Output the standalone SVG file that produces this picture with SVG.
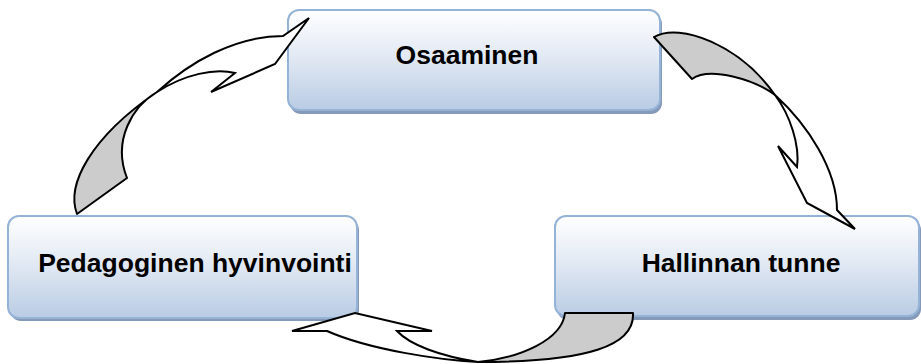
<svg xmlns="http://www.w3.org/2000/svg" width="921" height="364" viewBox="0 0 921 364">
  <defs>
    <linearGradient id="boxFill" x1="0" y1="0" x2="0" y2="1">
      <stop offset="0" stop-color="#ffffff"/>
      <stop offset="0.45" stop-color="#e3eaf4"/>
      <stop offset="1" stop-color="#b9cce4"/>
    </linearGradient>
    <filter id="soft" x="-5%" y="-5%" width="110%" height="120%">
      <feGaussianBlur stdDeviation="0.7"/>
    </filter>
  </defs>
  <style>
    .shadow { fill: #8599b8; filter: url(#soft); }
    .box { fill: url(#boxFill); stroke: #95b3d7; stroke-width: 2; }
    .label { font-family: "Liberation Sans", Arial, sans-serif; font-weight: bold; font-size: 26.5px; fill: #000; text-anchor: middle; }
    .fold { fill: #cccccc; stroke: #000; stroke-width: 2; stroke-linejoin: round; }
    .face { fill: #ffffff; stroke: #000; stroke-width: 2; stroke-linejoin: miter; }
  </style>

  <!-- nodes -->
  <g id="node-osaaminen">
    <rect class="shadow" x="290" y="13" width="372" height="101" rx="11"/>
    <rect class="box" x="288" y="10" width="372" height="100" rx="11"/>
    <text class="label" x="467" y="64">Osaaminen</text>
  </g>
  <g id="node-hallinnan-tunne">
    <rect class="shadow" x="557" y="219" width="364" height="101" rx="11"/>
    <rect class="box" x="555" y="216" width="364" height="100" rx="11"/>
    <text class="label" x="741" y="272">Hallinnan tunne</text>
  </g>
  <g id="node-pedagoginen-hyvinvointi">
    <rect class="shadow" x="10" y="219" width="349" height="102" rx="11"/>
    <rect class="box" x="8" y="216" width="349" height="102" rx="11"/>
    <text class="label" x="195" y="272">Pedagoginen hyvinvointi</text>
  </g>

  <!-- connectors: curved twisted arrows -->
  <g id="connectors">
    <!-- Pedagoginen hyvinvointi -> Osaaminen -->
    <g id="arrow-left">
      <path class="fold" d="M77,214 C66,185 90,138 157,92 C133,106 112,140 127,178 Z"/>
      <path class="face" d="M157,92 C190,62 235,36 283,36 L309,18 L275,64 L211,92 L235,73 C215,68 185,74 157,92 Z"/>
    </g>
    <!-- Osaaminen -> Hallinnan tunne -->
    <g id="arrow-right">
      <path class="fold" d="M654,37 C680,22 740,45 775,95 C755,80 710,66 692,79 Z"/>
      <path class="face" d="M775,95 C808,125 837,170 837,210 L855,229 L807,203 L778,146 L797,167 C800,145 790,115 775,95 Z"/>
    </g>
    <!-- Hallinnan tunne -> Pedagoginen hyvinvointi -->
    <g id="arrow-bottom">
      <path class="fold" d="M565,313 L633,313 C635,345 590,362 478,362 C520,358 562,340 565,313 Z"/>
      <path class="face" d="M478,362 C440,360 370,350 327,331 L292,331 L355,313 L432,331 L397,331 C410,345 440,356 478,362 Z"/>
    </g>
  </g>
</svg>
